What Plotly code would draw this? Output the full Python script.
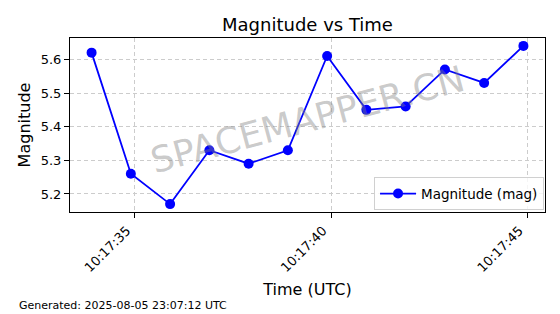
import plotly.graph_objects as go

times = ["2025-08-05 10:17:33.9", "2025-08-05 10:17:34.9", "2025-08-05 10:17:35.9",
         "2025-08-05 10:17:36.9", "2025-08-05 10:17:37.9", "2025-08-05 10:17:38.9",
         "2025-08-05 10:17:39.9", "2025-08-05 10:17:40.9", "2025-08-05 10:17:41.9",
         "2025-08-05 10:17:42.9", "2025-08-05 10:17:43.9", "2025-08-05 10:17:44.9"]
magnitudes = [5.62, 5.26, 5.17, 5.33, 5.29, 5.33, 5.61, 5.45, 5.46, 5.57, 5.53, 5.64]
tick_vals = ["2025-08-05 10:17:35", "2025-08-05 10:17:40", "2025-08-05 10:17:45"]
tick_text = ["10:17:35", "10:17:40", "10:17:45"]
y_ticks = [5.2, 5.3, 5.4, 5.5, 5.6]

font = "DejaVu Sans"

fig = go.Figure()
fig.add_trace(go.Scatter(
    x=times, y=magnitudes, mode="lines+markers", name="Magnitude (mag)",
    line=dict(color="#0000ff", width=1.8),
    marker=dict(color="#0000ff", size=10),
))

fig.update_layout(
    width=560, height=314,
    margin=dict(l=70, r=15, t=38, b=102),
    paper_bgcolor="white", plot_bgcolor="white",
    font=dict(family=font, color="black", size=13),
    title=dict(text="Magnitude vs Time", x=0.5, xanchor="center", y=0.922, yanchor="middle",
               xref="paper", font=dict(size=18, family=font)),
    showlegend=True,
    legend=dict(x=0.998, y=0.01, xanchor="right", yanchor="bottom",
                bgcolor="rgba(255,255,255,0.8)", bordercolor="#d0d0d0", borderwidth=1,
                itemwidth=36, font=dict(size=13.5, family=font)),
    xaxis=dict(
        range=["2025-08-05 10:17:33.35", "2025-08-05 10:17:45.45"],
        tickvals=tick_vals, ticktext=tick_text, tickangle=-45, ticklabelshift=-8,
        ticks="outside", ticklen=5, tickcolor="black",
        showline=True, linecolor="black", linewidth=1, mirror=True,
        showgrid=True, gridcolor="#cccccc", griddash="4px,3px", gridwidth=1,
        zeroline=False, tickfont=dict(size=13),
        title=dict(text="Time (UTC)", font=dict(size=16), standoff=9),
    ),
    yaxis=dict(
        range=[5.1465, 5.6635], tickvals=y_ticks, ticktext=[f"{v:.1f}" for v in y_ticks],
        ticks="outside", ticklen=5, tickcolor="black",
        showline=True, linecolor="black", linewidth=1, mirror=True,
        showgrid=True, gridcolor="#cccccc", griddash="4px,3px", gridwidth=1,
        zeroline=False, tickfont=dict(size=13),
        title=dict(text="Magnitude", font=dict(size=16), standoff=6),
    ),
)

fig.add_annotation(
    text="SPACEMAPPER.CN", xref="paper", yref="paper", x=0.5, y=0.53,
    showarrow=False, textangle=-15,
    font=dict(size=36, family=font, color="rgba(128,128,128,0.42)"),
)
fig.add_annotation(
    text="Generated: 2025-08-05 23:07:12 UTC", xref="paper", yref="paper",
    x=(17 - 70) / 475, y=-(305 - 212) / 174, xanchor="left", yanchor="middle",
    showarrow=False, font=dict(size=11, family=font, color="black"),
)

fig.write_html("out.html")
